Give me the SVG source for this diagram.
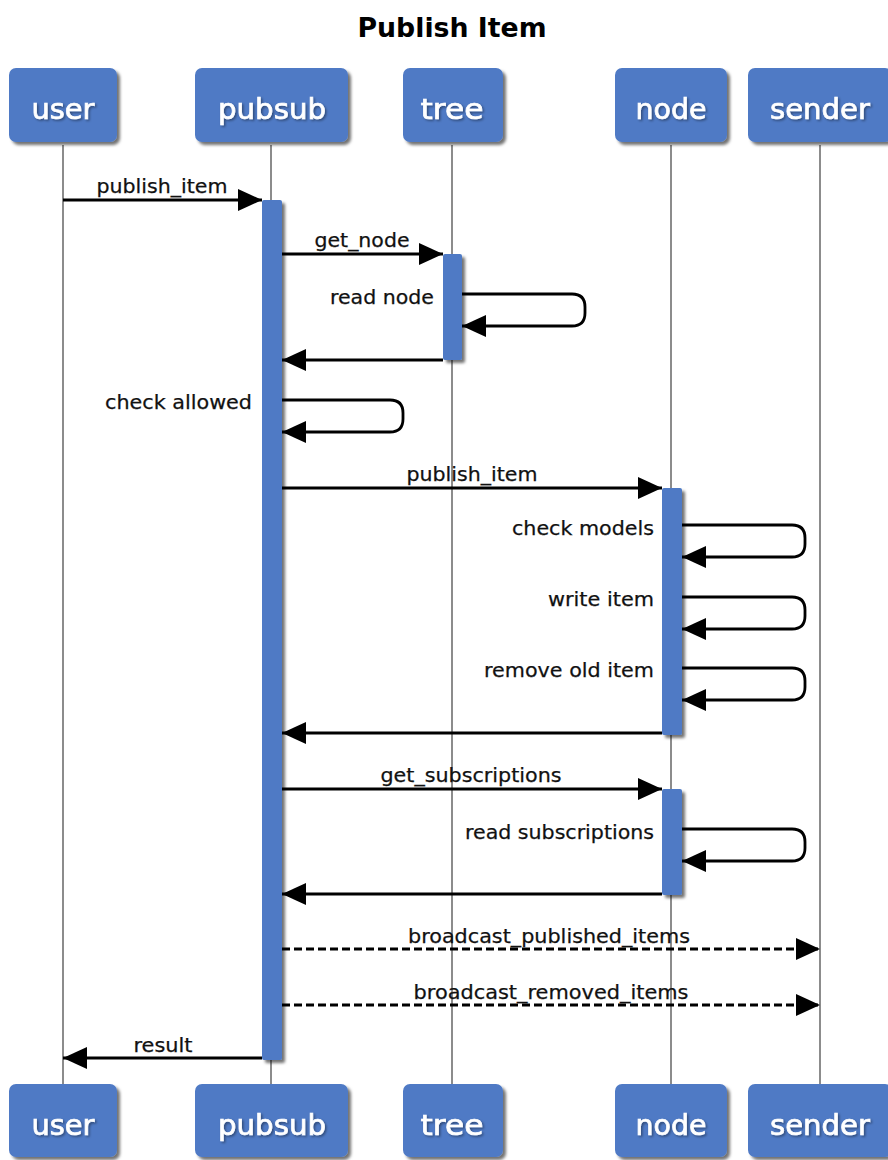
<svg xmlns="http://www.w3.org/2000/svg" width="888" height="1160" viewBox="0 0 888 1160">
<style>
.box{fill:#4f7ac5;}
.blabel{font-family:"DejaVu Sans",sans-serif;font-size:29px;fill:#ffffff;stroke:#ffffff;stroke-width:0.7;text-anchor:middle;}
.life{stroke:#8c8c8c;stroke-width:2;fill:none;}
.act{fill:#4f7ac5;}
.msg{stroke:#000000;stroke-width:2.8;fill:none;marker-end:url(#arr);}
.dash{stroke-dasharray:8,4;}
.lbl{font-family:"DejaVu Sans",sans-serif;font-size:20px;fill:#111111;stroke:#111111;stroke-width:0.25;}
.c{text-anchor:middle;}
.r{text-anchor:end;}
.title{font-family:"DejaVu Sans",sans-serif;font-size:26px;font-weight:bold;fill:#000;text-anchor:middle;}
</style>
<defs>
<filter id="sh" x="-20%" y="-20%" width="150%" height="150%">
<feDropShadow dx="3" dy="3" stdDeviation="1.8" flood-color="#000" flood-opacity="0.55"/>
</filter>
<filter id="tsh" x="-10%" y="-10%" width="130%" height="130%">
<feDropShadow dx="1.5" dy="1.5" stdDeviation="1" flood-color="#000" flood-opacity="0.4"/>
</filter>
<marker id="arr" markerUnits="userSpaceOnUse" markerWidth="24" markerHeight="22" refX="24" refY="11" orient="auto">
<path d="M0,0 L24,11 L0,22 z" fill="#000" stroke="none"/>
</marker>
</defs>
<rect width="888" height="1160" fill="#ffffff"/>
<text class="title" x="452" y="37" textLength="189" lengthAdjust="spacingAndGlyphs">Publish Item</text>

<g id="lifelines">
<line class="life" x1="63" y1="145" x2="63" y2="1084"/>
<line class="life" x1="271" y1="145" x2="271" y2="1084"/>
<line class="life" x1="452" y1="145" x2="452" y2="1084"/>
<line class="life" x1="671" y1="145" x2="671" y2="1084"/>
<line class="life" x1="820" y1="145" x2="820" y2="1084"/>
</g>

<g id="user">
<rect class="box" x="9" y="68" width="108" height="74" rx="7" filter="url(#sh)"/>
<text class="blabel" x="63" y="119" textLength="63" lengthAdjust="spacingAndGlyphs" filter="url(#tsh)">user</text>
<rect class="box" x="9" y="1084" width="108" height="73" rx="7" filter="url(#sh)"/>
<text class="blabel" x="63" y="1135" textLength="63" lengthAdjust="spacingAndGlyphs" filter="url(#tsh)">user</text>
</g>
<g id="pubsub">
<rect class="box" x="195" y="68" width="153" height="74" rx="7" filter="url(#sh)"/>
<text class="blabel" x="272" y="119" textLength="108" lengthAdjust="spacingAndGlyphs" filter="url(#tsh)">pubsub</text>
<rect class="box" x="195" y="1084" width="153" height="73" rx="7" filter="url(#sh)"/>
<text class="blabel" x="272" y="1135" textLength="108" lengthAdjust="spacingAndGlyphs" filter="url(#tsh)">pubsub</text>
</g>
<g id="tree">
<rect class="box" x="403" y="68" width="100" height="74" rx="7" filter="url(#sh)"/>
<text class="blabel" x="452" y="119" textLength="63" lengthAdjust="spacingAndGlyphs" filter="url(#tsh)">tree</text>
<rect class="box" x="403" y="1084" width="100" height="73" rx="7" filter="url(#sh)"/>
<text class="blabel" x="452" y="1135" textLength="63" lengthAdjust="spacingAndGlyphs" filter="url(#tsh)">tree</text>
</g>
<g id="node">
<rect class="box" x="615" y="68" width="112" height="74" rx="7" filter="url(#sh)"/>
<text class="blabel" x="671" y="119" textLength="71" lengthAdjust="spacingAndGlyphs" filter="url(#tsh)">node</text>
<rect class="box" x="615" y="1084" width="112" height="73" rx="7" filter="url(#sh)"/>
<text class="blabel" x="671" y="1135" textLength="71" lengthAdjust="spacingAndGlyphs" filter="url(#tsh)">node</text>
</g>
<g id="sender">
<rect class="box" x="748" y="68" width="144" height="74" rx="7" filter="url(#sh)"/>
<text class="blabel" x="820" y="119" textLength="100" lengthAdjust="spacingAndGlyphs" filter="url(#tsh)">sender</text>
<rect class="box" x="748" y="1084" width="144" height="73" rx="7" filter="url(#sh)"/>
<text class="blabel" x="820" y="1135" textLength="100" lengthAdjust="spacingAndGlyphs" filter="url(#tsh)">sender</text>
</g>

<g id="activations">
<rect class="act" x="262" y="200" width="20" height="860" rx="2" filter="url(#sh)"/>
<rect class="act" x="443" y="254" width="19" height="106" rx="2" filter="url(#sh)"/>
<rect class="act" x="662" y="488" width="20" height="247" rx="2" filter="url(#sh)"/>
<rect class="act" x="662" y="789" width="20" height="106" rx="2" filter="url(#sh)"/>
</g>

<g id="connectors">
<line class="msg" x1="63" y1="200" x2="262" y2="200"/>
<line class="msg" x1="282" y1="254" x2="443" y2="254"/>
<path class="msg" d="M462,294 H572 Q585,294 585,307 V313 Q585,326 572,326 H462"/>
<line class="msg" x1="443" y1="360" x2="282" y2="360"/>
<path class="msg" d="M282,400 H390 Q403,400 403,413 V419 Q403,432 390,432 H282"/>
<line class="msg" x1="282" y1="488" x2="662" y2="488"/>
<path class="msg" d="M682,525 H792 Q805,525 805,538 V544 Q805,557 792,557 H682"/>
<path class="msg" d="M682,597 H792 Q805,597 805,610 V616 Q805,629 792,629 H682"/>
<path class="msg" d="M682,668 H792 Q805,668 805,681 V687 Q805,700 792,700 H682"/>
<line class="msg" x1="662" y1="733" x2="282" y2="733"/>
<line class="msg" x1="282" y1="789" x2="662" y2="789"/>
<path class="msg" d="M682,829 H792 Q805,829 805,842 V848 Q805,861 792,861 H682"/>
<line class="msg" x1="662" y1="894" x2="282" y2="894"/>
<line class="msg dash" x1="282" y1="949" x2="820" y2="949"/>
<line class="msg dash" x1="282" y1="1005" x2="820" y2="1005"/>
<line class="msg" x1="262" y1="1058" x2="63" y2="1058"/>
</g>

<g id="labels">
<text class="lbl c" x="162" y="193" textLength="131" lengthAdjust="spacingAndGlyphs">publish_item</text>
<text class="lbl c" x="362" y="247" textLength="95" lengthAdjust="spacingAndGlyphs">get_node</text>
<text class="lbl r" x="434" y="304" textLength="104" lengthAdjust="spacingAndGlyphs">read node</text>
<text class="lbl r" x="252" y="409" textLength="147" lengthAdjust="spacingAndGlyphs">check allowed</text>
<text class="lbl c" x="472" y="481" textLength="131" lengthAdjust="spacingAndGlyphs">publish_item</text>
<text class="lbl r" x="654" y="535" textLength="142" lengthAdjust="spacingAndGlyphs">check models</text>
<text class="lbl r" x="654" y="606" textLength="106" lengthAdjust="spacingAndGlyphs">write item</text>
<text class="lbl r" x="654" y="677" textLength="170" lengthAdjust="spacingAndGlyphs">remove old item</text>
<text class="lbl c" x="471" y="782" textLength="181" lengthAdjust="spacingAndGlyphs">get_subscriptions</text>
<text class="lbl r" x="654" y="839" textLength="189" lengthAdjust="spacingAndGlyphs">read subscriptions</text>
<text class="lbl c" x="549" y="943" textLength="282" lengthAdjust="spacingAndGlyphs">broadcast_published_items</text>
<text class="lbl c" x="551" y="999" textLength="275" lengthAdjust="spacingAndGlyphs">broadcast_removed_items</text>
<text class="lbl c" x="163" y="1052" textLength="59" lengthAdjust="spacingAndGlyphs">result</text>
</g>
</svg>
